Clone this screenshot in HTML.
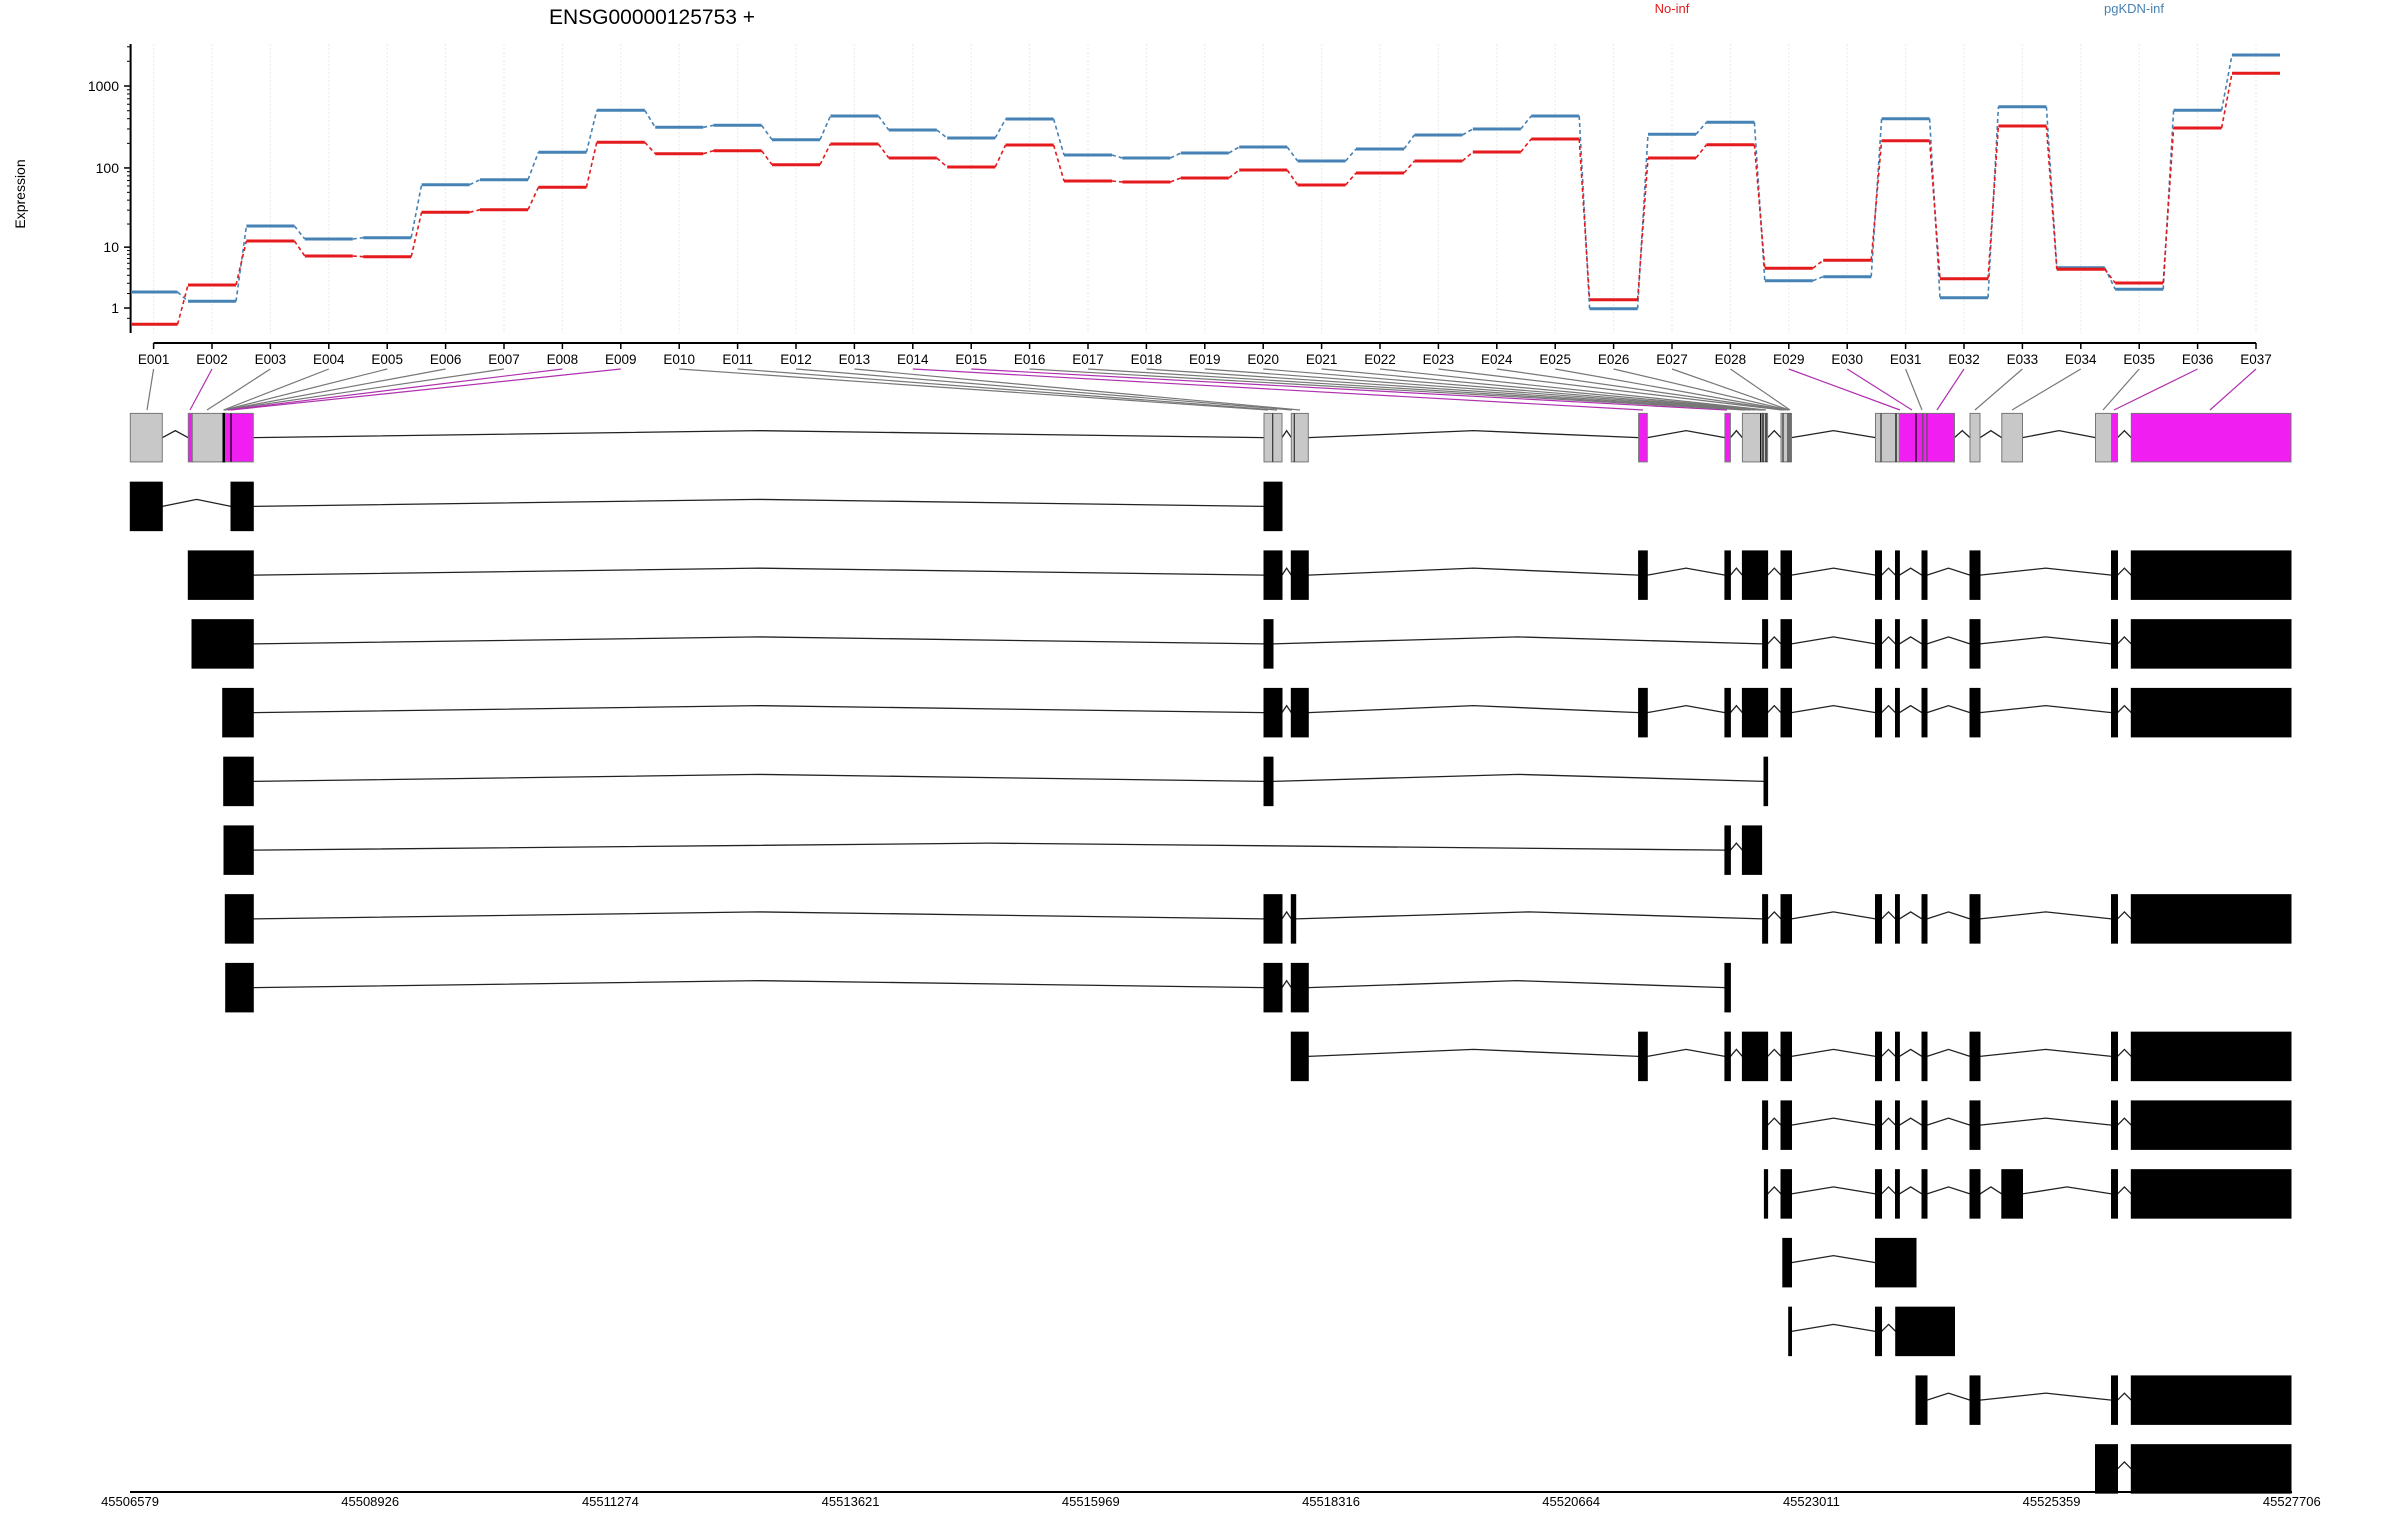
<!DOCTYPE html>
<html><head><meta charset="utf-8"><style>
html,body{margin:0;padding:0;background:#fff;}
svg{display:block;font-family:"Liberation Sans",sans-serif;}
</style></head><body>
<svg id="s" xmlns="http://www.w3.org/2000/svg" width="2400" height="1520" viewBox="0 0 2400 1520">
<text x="652" y="24" font-size="21" text-anchor="middle">ENSG00000125753 +</text>
<text x="1672" y="13" font-size="13" fill="#e41a1c" text-anchor="middle">No-inf</text>
<text x="2134" y="13" font-size="13" fill="#4682b4" text-anchor="middle">pgKDN-inf</text>
<text x="0" y="0" font-size="14" text-anchor="middle" transform="translate(25,194) rotate(-90)">Expression</text>
<g id="g"></g>
</svg>
<script>
var NS="http://www.w3.org/2000/svg",G=document.getElementById("g");
function el(t,a,txt){var e=document.createElementNS(NS,t);for(var k in a)e.setAttribute(k,a[k]);if(txt!==undefined)e.textContent=txt;G.appendChild(e);return e;}
function Y(v){return 332.8-82.25*Math.log10(v+1);}
// y axis
el("line",{x1:130.6,y1:44,x2:130.6,y2:333,stroke:"#000","stroke-width":2});
[[1,"1"],[10,"10"],[100,"100"],[1000,"1000"]].forEach(function(t){var y=Y(t[0]);el("line",{x1:124,y1:y,x2:130.6,y2:y,stroke:"#000","stroke-width":1.5});el("text",{x:119,y:y+5,"font-size":14,"text-anchor":"end"},t[1]);});
[0.5,2,3,4,5,6,7,8,9,20,30,40,50,60,70,80,90,200,300,400,500,600,700,800,900,2000,3000].forEach(function(v){var y=Y(v);el("line",{x1:127,y1:y,x2:130.6,y2:y,stroke:"#000","stroke-width":1});});
// x axis
var cx=[];for(var i=0;i<37;i++)cx.push(153.6+i*58.4);
el("line",{x1:153.6,y1:343,x2:cx[36],y2:343,stroke:"#000","stroke-width":2});
for(var i=0;i<37;i++){el("line",{x1:cx[i],y1:44,x2:cx[i],y2:333,stroke:"#f0e4ee","stroke-width":1,"stroke-dasharray":"2,2"});
el("line",{x1:cx[i],y1:343,x2:cx[i],y2:349,stroke:"#000","stroke-width":1.5});
el("text",{x:cx[i],y:364,"font-size":13.5,"text-anchor":"middle"},"E"+("00"+(i+1)).slice(-3));}
var B=[292,301.3,226,239,237.7,184.7,179.7,152.3,110.3,127.3,125.3,139.7,116,130,138,119,155,158,153,147,161,149,135,129,116,308.7,134.3,122.3,280.7,276.7,118.7,297.7,106.7,267.7,289.3,110.3,55];
var R=[324.3,285,241,256,256.7,212.3,209.7,187.3,142.3,153.7,150.7,164.7,144,158,167,145,181,182,178,170,185,173,161,152,139,299.7,158,144.7,268.3,260.3,140.7,278.7,126,269.3,283,128,73.3];
function steps(L,c){for(var i=0;i<37;i++){var x1=i==0?131:cx[i]-24;el("line",{x1:x1,y1:L[i],x2:cx[i]+24,y2:L[i],stroke:c,"stroke-width":3});
if(i<36)el("line",{x1:cx[i]+24,y1:L[i],x2:cx[i+1]-24,y2:L[i+1],stroke:c,"stroke-width":1.6,"stroke-dasharray":"4,3"});}}
steps(B,"#4682b4");steps(R,"#e41a1c");
// connectors
var EP=[147,190,207,223.5,224,224.5,225,228,231,1268,1277,1292,1300,1643,1727,1745,1750,1755,1760,1762,1764,1766,1782,1784,1786,1788,1789,1790,1900,1912,1922,1937,1975,2012,2103,2114,2210];
var MG={1:1,7:1,8:1,13:1,14:1,28:1,29:1,31:1,35:1,36:1};
for(var i=0;i<37;i++)el("line",{x1:cx[i],y1:369,x2:EP[i],y2:410,stroke:MG[i]?"#b030b0":"#777","stroke-width":1.2});
// gene model
var T0=413.4,H=48.5,DY=68.75;
function row(r,ex){var t=T0+DY*r,m=t+H/2;
for(var i=0;i<ex.length-1;i++){var a=ex[i][1],b=ex[i+1][0];if(b>a)el("polyline",{points:a+","+m+" "+((a+b)/2)+","+(m-7)+" "+b+","+m,fill:"none",stroke:"#222","stroke-width":1.3});}
ex.forEach(function(e){var f=e[2]||"#000";el("rect",{x:e[0],y:t,width:Math.max(e[1]-e[0],2),height:H,fill:f,stroke:f=="#000"?"#000":"#777","stroke-width":1});});}
var g="#c8c8c8",p="#f01ef0";
row(0,[[130.3,162.3,g],[188.3,192.3,p],[192.3,223,g],[223,225.5,"#000"],[225.5,253.3,p],[1264,1282,g],[1291.3,1308.3,g],[1638.6,1647.3,p],[1724.9,1730.4,p],[1742.4,1767.6,g],[1781,1791.5,g],[1875.5,1899.4,g],[1899.4,1954.5,p],[1970,1980,g],[2001.8,2022.5,g],[2095.5,2111.5,g],[2111.5,2117.5,p],[2131.3,2291,p]]);
// internal lines in model
[[231,"#000"],[1272.7,"#333"],[1294.3,"#333"],[1760.7,"#000"],[1763,"#000"],[1766,"#000"],[1783,"#333"],[1788,"#333"],[1790,"#333"],[1881,"#333"],[1896,"#000"],[1916,"#000"],[1922.8,"#555"],[1927,"#555"]].forEach(function(l){el("line",{x1:l[0],y1:T0,x2:l[0],y2:T0+H,stroke:l[1],"stroke-width":1.2});});
var C1=[1264,1282],C1a=[1264,1273],C2=[1291.3,1308.3],C2a=[1291.3,1295.7],M1=[1638.6,1647.3],M2=[1724.9,1730.4],M3=[1742.4,1767.6],M3a=[1762.6,1767.6],M4=[1781,1791.5],M5=[1875.5,1881.5],M6=[1895.5,1899.4],M7=[1922,1927],M8=[1970,1980],M9=[2001.8,2022.5],M10=[2111.5,2117.5],M11=[2131.3,2291];
var TAIL=[M5,M6,M7,M8,M10,M11];
row(1,[[130.3,162.3],[231,253.3],C1]);
row(2,[[188.3,253.3],C1,C2,M1,M2,M3,M4].concat(TAIL));
row(3,[[192,253.3],C1a,M3a,M4].concat(TAIL));
row(4,[[222.7,253.3],C1,C2,M1,M2,M3,M4].concat(TAIL));
row(5,[[223.7,253.3],C1a,[1764,1767.6]]);
row(6,[[224,253.3],M2,[1742.4,1761.6]]);
row(7,[[225.3,253.3],C1,C2a,M3a,M4].concat(TAIL));
row(8,[[225.7,253.3],C1,C2,M2]);
row(9,[C2,M1,M2,M3,M4].concat(TAIL));
row(10,[M3a,M4].concat(TAIL));
row(11,[[1764.4,1767.6],M4,M5,M6,M7,M8,M9,M10,M11]);
row(12,[[1782.8,1791.5],[1875.5,1916]]);
row(13,[[1788.7,1791.5],M5,[1895.7,1954.5]]);
row(14,[[1916,1927],M8,M10,M11]);
row(15,[[2095.5,2117.5],M11]);
// bottom axis
el("line",{x1:130,y1:1492,x2:2292,y2:1492,stroke:"#000","stroke-width":2});
["45506579","45508926","45511274","45513621","45515969","45518316","45520664","45523011","45525359","45527706"].forEach(function(s,i){el("text",{x:130+i*240.2,y:1506,"font-size":13,"text-anchor":"middle"},s);});
</script>
</body></html>
